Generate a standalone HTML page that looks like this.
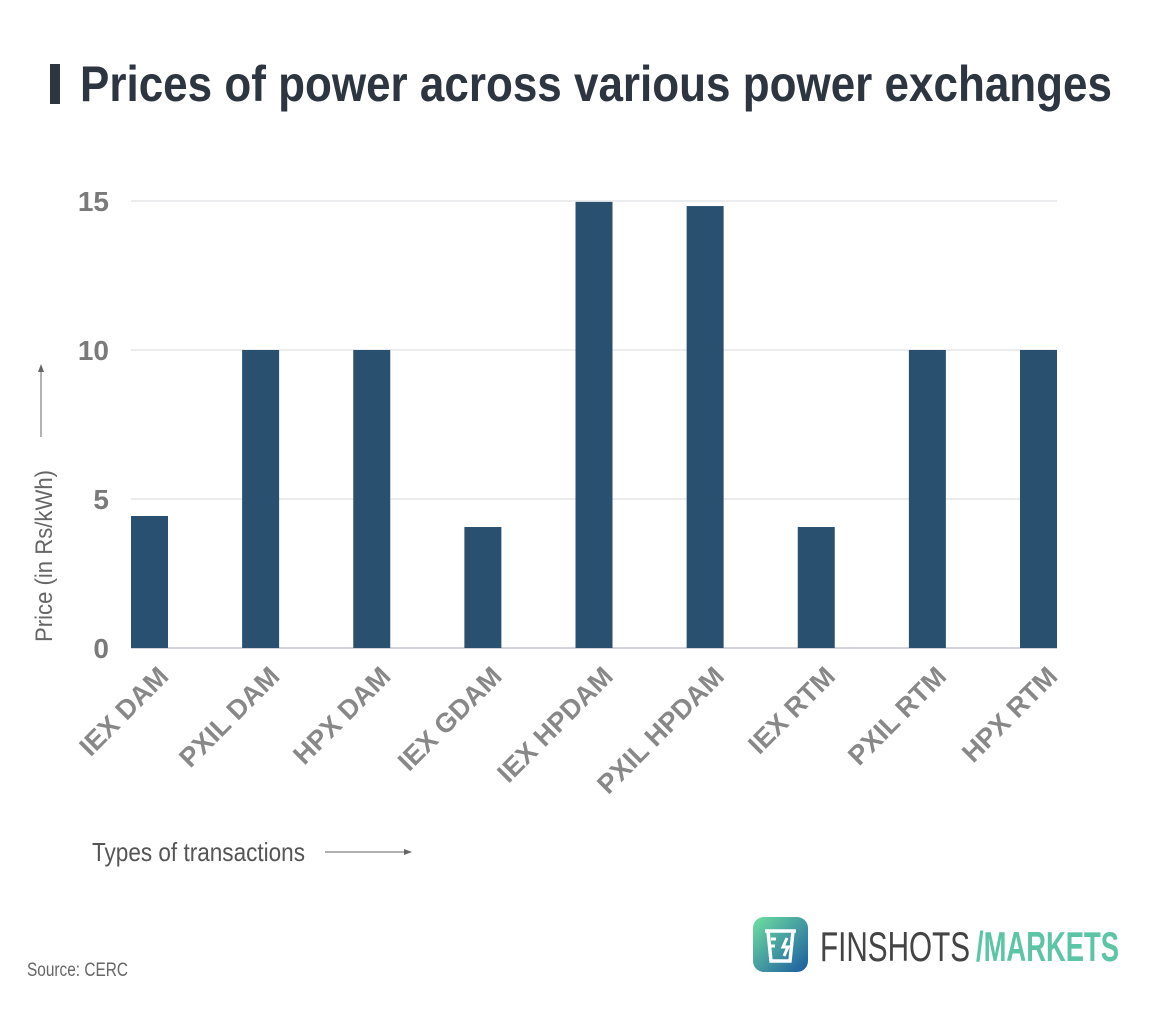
<!DOCTYPE html>
<html><head><meta charset="utf-8"><style>
html,body{margin:0;padding:0;background:#fff;}
svg{display:block;font-family:"Liberation Sans",sans-serif;}
</style></head><body>
<svg id="chart" width="1175" height="1009" viewBox="0 0 1175 1009">
<rect x="50" y="64" width="10" height="40" fill="#2d3640"/>
<text x="80" y="101" font-size="50" font-weight="bold" fill="#2d3640" textLength="1032" lengthAdjust="spacingAndGlyphs">Prices of power across various power exchanges</text>
<g id="grid"></g><g id="bars"></g><g id="xlabels"></g>
<g>
<text transform="translate(52,642) rotate(-90)" font-size="24" fill="#666" textLength="172" lengthAdjust="spacingAndGlyphs">Price (in Rs/kWh)</text>
<line x1="41" y1="437" x2="41" y2="370" stroke="#666" stroke-width="1"/>
<path d="M38,372 L41,364 L44,372 Z" fill="#666"/>
</g>
<g>
<text x="92" y="861" font-size="26" fill="#555" textLength="213" lengthAdjust="spacingAndGlyphs">Types of transactions</text>
<line x1="325" y1="852" x2="406" y2="852" stroke="#666" stroke-width="1"/>
<path d="M404,849 L412,852 L404,855 Z" fill="#666"/>
</g>
<text x="27" y="976" font-size="19" fill="#666" textLength="101" lengthAdjust="spacingAndGlyphs">Source: CERC</text>
<defs><linearGradient id="lg" x1="0" y1="0" x2="1" y2="1"><stop offset="0" stop-color="#6fe0a0"/><stop offset="1" stop-color="#1b5aa0"/></linearGradient></defs>
<g>
<rect x="753" y="917" width="55" height="55" rx="11" fill="url(#lg)"/>
<path d="M765,931 h31 M768,931 l3,30 h19 l3,-30" stroke="#fff" stroke-width="3.5" fill="none"/>
<path d="M776,939 h-5 M775,946 h-4 M787,938 l-4,9 h5 l-4,9" stroke="#fff" stroke-width="3" fill="none"/>
<text x="820" y="961" font-size="42" fill="#444" textLength="150" lengthAdjust="spacingAndGlyphs">FINSHOTS</text>
<text x="976" y="961" font-size="42" font-weight="bold" fill="#5cc5a5" textLength="143" lengthAdjust="spacingAndGlyphs">/MARKETS</text>
</g>
</svg>
<script>
const categories=["IEX DAM","PXIL DAM","HPX DAM","IEX GDAM","IEX HPDAM","PXIL HPDAM","IEX RTM","PXIL RTM","HPX RTM"];
const values=[4.43,10,10,4.06,14.97,14.83,4.06,10,10];
const yTicks=[0,5,10,15];
const NS="http://www.w3.org/2000/svg";
const x0=131,x1=1057,y0=648,yTop=201,bw=37;
const step=(x1-bw-x0)/(categories.length-1);
function yScale(v){return y0-(v/15)*(y0-yTop);}
function xScale(i){return x0+i*step;}
function mk(t,a){const e=document.createElementNS(NS,t);for(const k in a)e.setAttribute(k,a[k]);return e;}
const grid=document.getElementById('grid'),bars=document.getElementById('bars'),xl=document.getElementById('xlabels');
yTicks.forEach(t=>{
 const l=mk('line',{x1:x0,x2:x1,y1:yScale(t),y2:yScale(t),stroke:t===0?'#aab':'#d4d8dc','stroke-width':1});
 
 
 grid.appendChild(l);
 const tx=mk('text',{x:109,y:yScale(t)+10,'text-anchor':'end','font-size':28,'font-weight':'bold',fill:'#7a7a7a'});
 tx.textContent=t;
 
 
 grid.appendChild(tx);
});
categories.forEach((c,i)=>{
 const x=xScale(i),y=yScale(values[i]);
 const r=mk('rect',{x:x,y:y,width:bw,height:y0-y,fill:'#29506f'});
 
 
 bars.appendChild(r);
 const t=mk('text',{transform:`translate(${x+bw+2},${y0+30}) rotate(-45)`,'text-anchor':'end','font-size':27,'font-weight':'bold',fill:'#888'});
 t.textContent=c;
 
 
 xl.appendChild(t);
});
</script>
</body></html>
